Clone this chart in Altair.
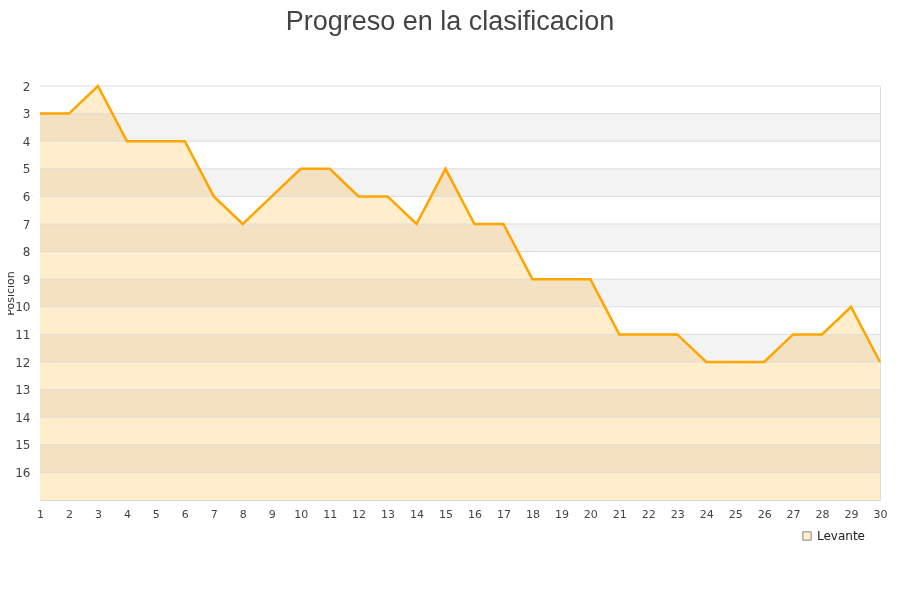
import altair as alt
import pandas as pd

jornadas = list(range(1, 31))
posiciones = [3, 3, 2, 4, 4, 4, 6, 7, 6, 5, 5, 6, 6, 7, 5, 7, 7, 9, 9, 9,
              11, 11, 11, 12, 12, 12, 11, 11, 10, 12]
equipo = "Levante"

band_lo = list(range(2, 17))
band_hi = [v + 1 for v in band_lo]
band_col = ["a" if i % 2 == 0 else "b" for i in range(len(band_lo))]

df = pd.DataFrame({"jornada": jornadas, "pos": posiciones, "equipo": [equipo] * len(jornadas)})
bands = pd.DataFrame({"lo": band_lo, "hi": band_hi, "c": band_col,
                      "x0": [1] * len(band_lo), "x1": [30] * len(band_lo)})

xscale = alt.Scale(domain=[1, 30], nice=False, zero=False)
yscale = alt.Scale(domain=[2, 17], reverse=True, nice=False, zero=False)

xaxis = alt.Axis(values=jornadas, title=None, grid=False, ticks=False, domain=False,
                 labelFontSize=11, labelColor="#444", labelPadding=8, format="d",
                 labelOverlap=False, labelFlush=False)
yaxis = alt.Axis(values=band_lo, title="Posicion", grid=False,
                 ticks=False, domain=False, labelFontSize=12, labelColor="#444",
                 labelPadding=10, titleFontSize=11, titleFontWeight="normal",
                 titleColor="#333", titleX=-30, titleY=207, titleAngle=270,
                 titleAlign="center", titleBaseline="middle", format="d",
                 labelOverlap=False, labelFlush=False)

band_layer = alt.Chart(bands).mark_rect(stroke=None).encode(
    x=alt.X("x0:Q", scale=xscale, axis=xaxis),
    x2="x1:Q",
    y=alt.Y("lo:Q", scale=yscale, axis=yaxis),
    y2="hi:Q",
    fill=alt.Fill("c:N", scale=alt.Scale(domain=["a", "b"], range=["#ffffff", "#f3f3f3"]), legend=None),
)

area = alt.Chart(df).mark_area(line=False, blend="multiply", fillOpacity=1).encode(
    x=alt.X("jornada:Q", scale=xscale, axis=xaxis),
    y=alt.Y("pos:Q", scale=yscale, axis=yaxis),
    y2=alt.Y2(datum=17),
    color=alt.Color("equipo:N", scale=alt.Scale(range=["#ffedcc"]),
                    legend=alt.Legend(title=None, orient="none", legendX=761, legendY=444,
                                      symbolType="square", symbolSize=70,
                                      symbolStrokeColor="#888888", symbolStrokeWidth=1,
                                      labelFontSize=12, labelColor="#222")),
)

grid = alt.Chart(bands).mark_rule(color="#dddddd", strokeWidth=1).encode(
    x=alt.X("x0:Q", scale=xscale, axis=xaxis),
    x2="x1:Q",
    y=alt.Y("lo:Q", scale=yscale, axis=yaxis),
)

line = alt.Chart(df).mark_line(color="#ffa500", strokeWidth=2.5).encode(
    x=alt.X("jornada:Q", scale=xscale, axis=xaxis),
    y=alt.Y("pos:Q", scale=yscale, axis=yaxis),
)

chart = alt.layer(band_layer, area, grid, line).properties(
    width=840, height=414,
    title=alt.Title("Progreso en la clasificacion", fontSize=27, fontWeight="normal",
                    color="#444", font="Liberation Sans", offset=44, dx=-10, anchor="middle"),
    autosize=alt.AutoSizeParams(type="none"),
    padding={"left": 32, "top": 78, "right": 12, "bottom": 86},
).configure_view(stroke="#dddddd").configure(font="DejaVu Sans")

chart.save("out.html", embed_options={"renderer": "svg", "actions": False})
